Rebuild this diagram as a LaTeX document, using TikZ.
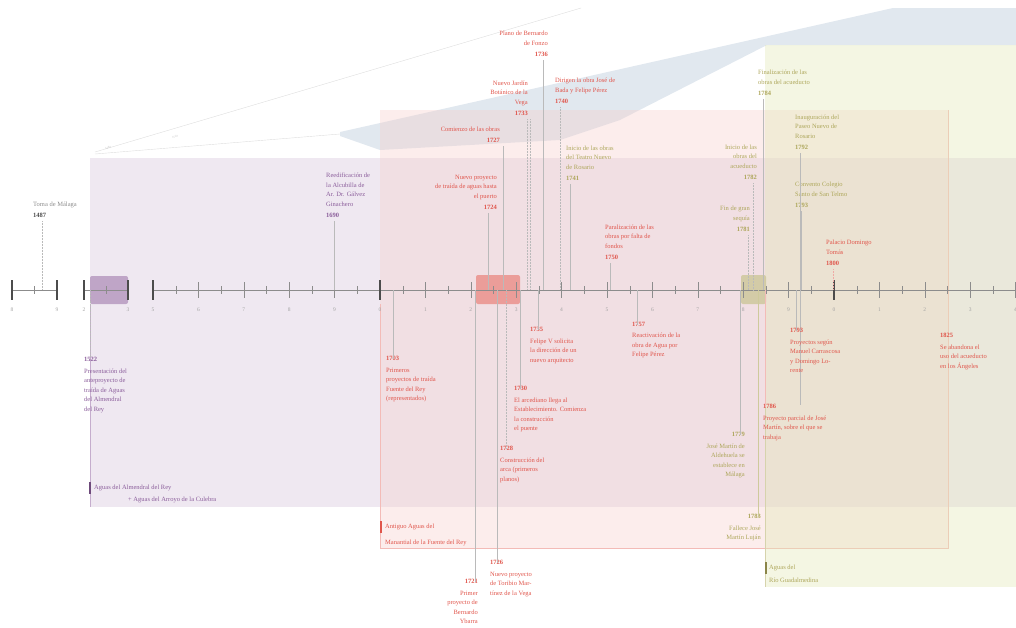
\documentclass[tikz,border=0pt]{standalone}
\usepackage{fontspec}
\setmainfont{Liberation Serif}
\usetikzlibrary{positioning}
\definecolor{lila}{HTML}{8A5C9A}
\definecolor{rojo}{HTML}{E0554B}
\definecolor{oliva}{HTML}{ADA65A}
\definecolor{gris}{HTML}{8C8C8C}
\definecolor{azul}{HTML}{C9D5E2}
\definecolor{verdoso}{HTML}{E3E8B9}

\begin{document}
\begin{tikzpicture}[x=1pt,y=-1pt]
\tikzstyle{lbl}=[inner sep=0pt, font=\fontsize{6.5}{9.5}\selectfont]
\tikzstyle{up}=[lbl, anchor=south west, align=left]
\tikzstyle{upr}=[lbl, anchor=south east, align=right]
\tikzstyle{down}=[lbl, anchor=north west, align=left]
\tikzstyle{downr}=[lbl, anchor=north east, align=right]
\tikzstyle{stem}=[gris!60, line width=0.5pt]
\tikzstyle{dstem}=[stem, densely dotted]
\tikzstyle{bar}=[line width=1.6pt]
\tikzstyle{tlbl}=[lbl, gris!80, font=\fontsize{5.5}{5.5}\selectfont]
\useasboundingbox (0,0) rectangle (1016,627);

% paneles de fondo
\fill[azul, opacity=0.55] (340,132) -- (893,8) -- (1016,8) -- (1016,45) -- (767,45)
  -- (620,120) -- (560,140) -- (380,150) -- (340,136) -- cycle;
\fill[lila!25, opacity=0.55] (90,158) rectangle (1016,507);
\fill[rojo!30, opacity=0.35] (380,110) rectangle (948,548);
\draw[rojo!40, line width=0.4pt] (380,304) -- (380,548) -- (948,548) -- (948,110);
\fill[verdoso, opacity=0.4] (765,45) rectangle (1016,587);
\draw[oliva!50, line width=0.4pt] (765,304) -- (765,587);
\draw[lila!50, line width=0.4pt] (90,304) -- (90,507);

% lineas de ampliacion
\draw[gris!30, line width=0.4pt] (95,152) -- (581,8);
\draw[gris!30, line width=0.4pt] (95,154) -- (340,134);
\node[lbl, gris!50, font=\fontsize{3}{3}\selectfont, rotate=12] (z1) at (108,148) {1480};
\node[lbl, gris!50, font=\fontsize{3}{3}\selectfont, rotate=12] (z2) at (175,137) {1520};

% periodos sobre el eje
\fill[lila!55, rounded corners=2pt] (90,276) rectangle (128,304);
\fill[rojo!70, opacity=0.75, rounded corners=2pt] (476,275) rectangle (520,304);
\fill[oliva!65, opacity=0.75, rounded corners=2pt] (741,275) rectangle (766,304);

% eje
\draw[gris, line width=0.5pt] (12,290) -- (57,290);
\draw[gris, line width=0.5pt] (84,290) -- (128,290);
\draw[gris, line width=0.5pt] (153,290) -- (1016,290);
\foreach \x/\d in {12/8, 57/9, 84/2, 128/3} {
  \draw[black!70, line width=1.2pt] (\x,280) -- (\x,300);
  \node[tlbl] at (\x,310) {\d};
}
\draw[gris] (34.5,286) -- (34.5,294);
\draw[gris] (106,286) -- (106,294);
\foreach \k in {0,...,19} {
  \pgfmathsetmacro\x{153+45.4*\k}
  \pgfmathtruncatemacro\d{mod(5+\k,10)}
  \ifnum\k=0 \draw[black!70, line width=1.2pt] (\x,280) -- (\x,300);
  \else\ifnum\k=5 \draw[black!70, line width=1.2pt] (\x,280) -- (\x,300);
  \else\ifnum\k=15 \draw[black!70, line width=1.2pt] (\x,280) -- (\x,300);
  \else \draw[gris, line width=0.6pt] (\x,282) -- (\x,298);
  \fi\fi\fi
  \node[tlbl] at (\x,310) {\d};
  \ifnum\k<19 \draw[gris] (\x+22.7,286) -- (\x+22.7,294); \fi
}

% puntos del eje
\foreach \n/\x in {a1487/42, a1690/334, a1724/488, a1727/503, a1733/530, a1736/543,
  a1740/560, a1741/570, a1750/610, a1782/753, a1781/748, a1784/763, a1792/800,
  a1793/801, a1800/833, a1522/90, a1703/393, a1735/538, a1757/637, a1730/520,
  a1728/506, a1726/497, a1721/475, a1779/740, a1783/758, a1786/765, a1793b/796}
  \coordinate (\n) at (\x,290);

% sucesos sobre el eje
\node[up, gris] (toma) at (33,218) {Toma de Málaga\\[2pt]\textbf{\color{black!70}1487}};
\node[up, lila] (reed) at (326,218) {Reedificación de\\la Alcubilla de\\Ar. Dr. Gálvez\\Ginachero\\[2pt]\textbf{1690}};
\node[upr, rojo] (traida) at (497,210) {Nuevo proyecto\\de traída de aguas hasta\\el puerto\\[2pt]\textbf{1724}};
\node[upr, rojo] (comienzo) at (500,143) {Comienzo de las obras\\[2pt]\textbf{1727}};
\node[upr, rojo] (jardin) at (528,116) {Nuevo Jardín\\Botánico de la\\Vega\\[2pt]\textbf{1733}};
\node[upr, rojo] (plano) at (548,57) {Plano de Bernardo\\de Fonzo\\[2pt]\textbf{1736}};
\node[up, rojo] (dirigen) at (555,104) {Dirigen la obra José de\\Bada y Felipe Pérez\\[2pt]\textbf{1740}};
\node[up, oliva] (teatro) at (566,181) {Inicio de las obras\\del Teatro Nuevo\\de Rosario\\[2pt]\textbf{1741}};
\node[up, rojo] (paral) at (605,260) {Paralización de las\\obras por falta de\\fondos\\[2pt]\textbf{1750}};
\node[upr, oliva] (inicio) at (757,180) {Inicio de las\\obras del\\acueducto\\[2pt]\textbf{1782}};
\node[upr, oliva] (sequia) at (750,232) {Fin de gran\\sequía\\[2pt]\textbf{1781}};
\node[up, oliva] (finaliz) at (758,96) {Finalización de las\\obras del acueducto\\[2pt]\textbf{1784}};
\node[up, oliva] (inaug) at (795,150) {Inauguración del\\Paseo Nuevo de\\Rosario\\[2pt]\textbf{1792}};
\node[up, oliva] (convento) at (795,208) {Convento Colegio\\Santo de San Telmo\\[2pt]\textbf{1793}};
\node[up, rojo] (palacio) at (826,266) {Palacio Domingo\\Tomás\\[2pt]\textbf{1800}};

\draw[dstem] (toma.south -| a1487) ++(0,3) -- (a1487);
\draw[stem] (reed.south -| a1690) ++(0,3) -- (a1690);
\draw[stem] (traida.south -| a1724) ++(0,3) -- (a1724);
\draw[stem] (comienzo.south -| a1727) ++(0,3) -- (a1727);
\draw[dstem] (jardin.south -| a1733) ++(0,3) -- (a1733);
\draw[dstem] (jardin.south -| a1733) ++(-3,3) -- ([xshift=-3pt]a1733);
\draw[stem] (plano.south -| a1736) ++(0,3) -- (a1736);
\draw[dstem] (dirigen.south -| a1740) ++(0,3) -- (a1740);
\draw[stem] (teatro.south -| a1741) ++(0,3) -- (a1741);
\draw[stem] (paral.south -| a1750) ++(0,3) -- (a1750);
\draw[dstem] (inicio.south -| a1782) ++(0,3) -- (a1782);
\draw[dstem] (sequia.south -| a1781) ++(0,3) -- (a1781);
\draw[stem] (finaliz.south -| a1784) ++(0,3) -- (a1784);
\draw[stem] (inaug.south -| a1792) ++(0,3) -- ([yshift=-115pt]a1792);
\draw[stem] (convento.south -| a1793) ++(0,3) -- (a1793);
\draw[dstem, rojo!50] (palacio.south -| a1800) ++(0,3) -- (a1800);

% sucesos bajo el eje
\node[down, lila] (pres) at (84,357) {\textbf{1522}\\[2pt]Presentación del\\anteproyecto de\\traída de Aguas\\del Almendral\\del Rey};
\node[down, rojo] (prim) at (386,356) {\textbf{1703}\\[2pt]Primeros\\proyectos de traída\\Fuente del Rey\\(representados)};
\node[down, rojo] (felipe) at (530,327) {\textbf{1735}\\[2pt]Felipe V solicita\\la dirección de un\\nuevo arquitecto};
\node[down, rojo] (reactiv) at (632,322) {\textbf{1757}\\[2pt]Reactivación de la\\obra de Agua por\\Felipe Pérez};
\node[down, rojo] (arced) at (514,386) {\textbf{1730}\\[2pt]El arcediano llega al\\Establecimiento. Comienza\\la construcción\\el puente};
\node[down, rojo] (arca) at (500,446) {\textbf{1728}\\[2pt]Construcción del\\arca (primeros\\planos)};
\node[down, rojo] (toribio) at (490,560) {\textbf{1726}\\[2pt]Nuevo proyecto\\de Toribio Mar-\\tínez de la Vega};
\node[downr, rojo] (ybarra) at (478,579) {\textbf{1721}\\[2pt]Primer\\proyecto de\\Bernardo\\Ybarra};
\node[downr, oliva] (martin) at (745,432) {\textbf{1779}\\[2pt]José Martín de\\Aldehuela se\\establece en\\Málaga};
\node[downr, oliva] (fallece) at (761,514) {\textbf{1783}\\[2pt]Fallece José\\Martín Luján};
\node[down, rojo] (parcial) at (763,404) {\textbf{1786}\\[2pt]Proyecto parcial de José\\Martín, sobre el que se\\trabaja};
\node[down, rojo] (segun) at (790,328) {\textbf{1793}\\[2pt]Proyectos según\\Manuel Carrascosa\\y Domingo Lo-\\rente};
\node[down, rojo] (abandona) at (940,333) {\textbf{1825}\\[2pt]Se abandona el\\uso del acueducto\\en los Ángeles};

\draw[dstem] (a1522) -- (pres.north -| a1522);
\draw[stem] (a1703) -- ([yshift=-3pt]prim.north -| a1703);
\draw[stem] (a1735) -- ([yshift=-3pt]felipe.north -| a1735);
\draw[stem] (a1757) -- ([yshift=-3pt]reactiv.north -| a1757);
\draw[stem] (a1730) -- ([yshift=-3pt]arced.north -| a1730);
\draw[dstem] (a1728) -- ([yshift=-3pt]arca.north -| a1728);
\draw[stem] (a1726) -- ([yshift=-3pt]toribio.north -| a1726);
\draw[stem] (a1721) -- ([yshift=-3pt]ybarra.north -| a1721);
\draw[stem] (a1779) -- ([yshift=-3pt]martin.north -| a1779);
\draw[stem, oliva!60] (a1783) -- ([yshift=-3pt]fallece.north -| a1783);
\draw[stem, rojo!40] (a1786) -- ([yshift=-3pt]parcial.north -| a1786);
\draw[stem] (a1793b) -- ([yshift=-3pt]segun.north -| a1793b);

% leyendas de los paneles
\draw[bar, lila!80!black] (90,482) -- (90,494);
\node[lbl, lila, anchor=west] (almendral) at (94,488) {Aguas del Almendral del Rey};
\node[lbl, lila, anchor=west] (culebra) at (128,500) {+ Aguas del Arroyo de la Culebra};
\draw[bar, rojo] (381,521) -- (381,533);
\node[lbl, rojo, anchor=west] (antiguo) at (385,527) {Antiguo Aguas del};
\node[lbl, rojo, anchor=west] (fuente) at (385,543) {Manantial de la Fuente del Rey};
\draw[bar, oliva!80!black] (766,562) -- (766,574);
\node[lbl, oliva, anchor=west] (rio1) at (769,568) {Aguas del};
\node[lbl, oliva, anchor=west] (rio2) at (769,580) {Río Guadalmedina};
\end{tikzpicture}
\end{document}
